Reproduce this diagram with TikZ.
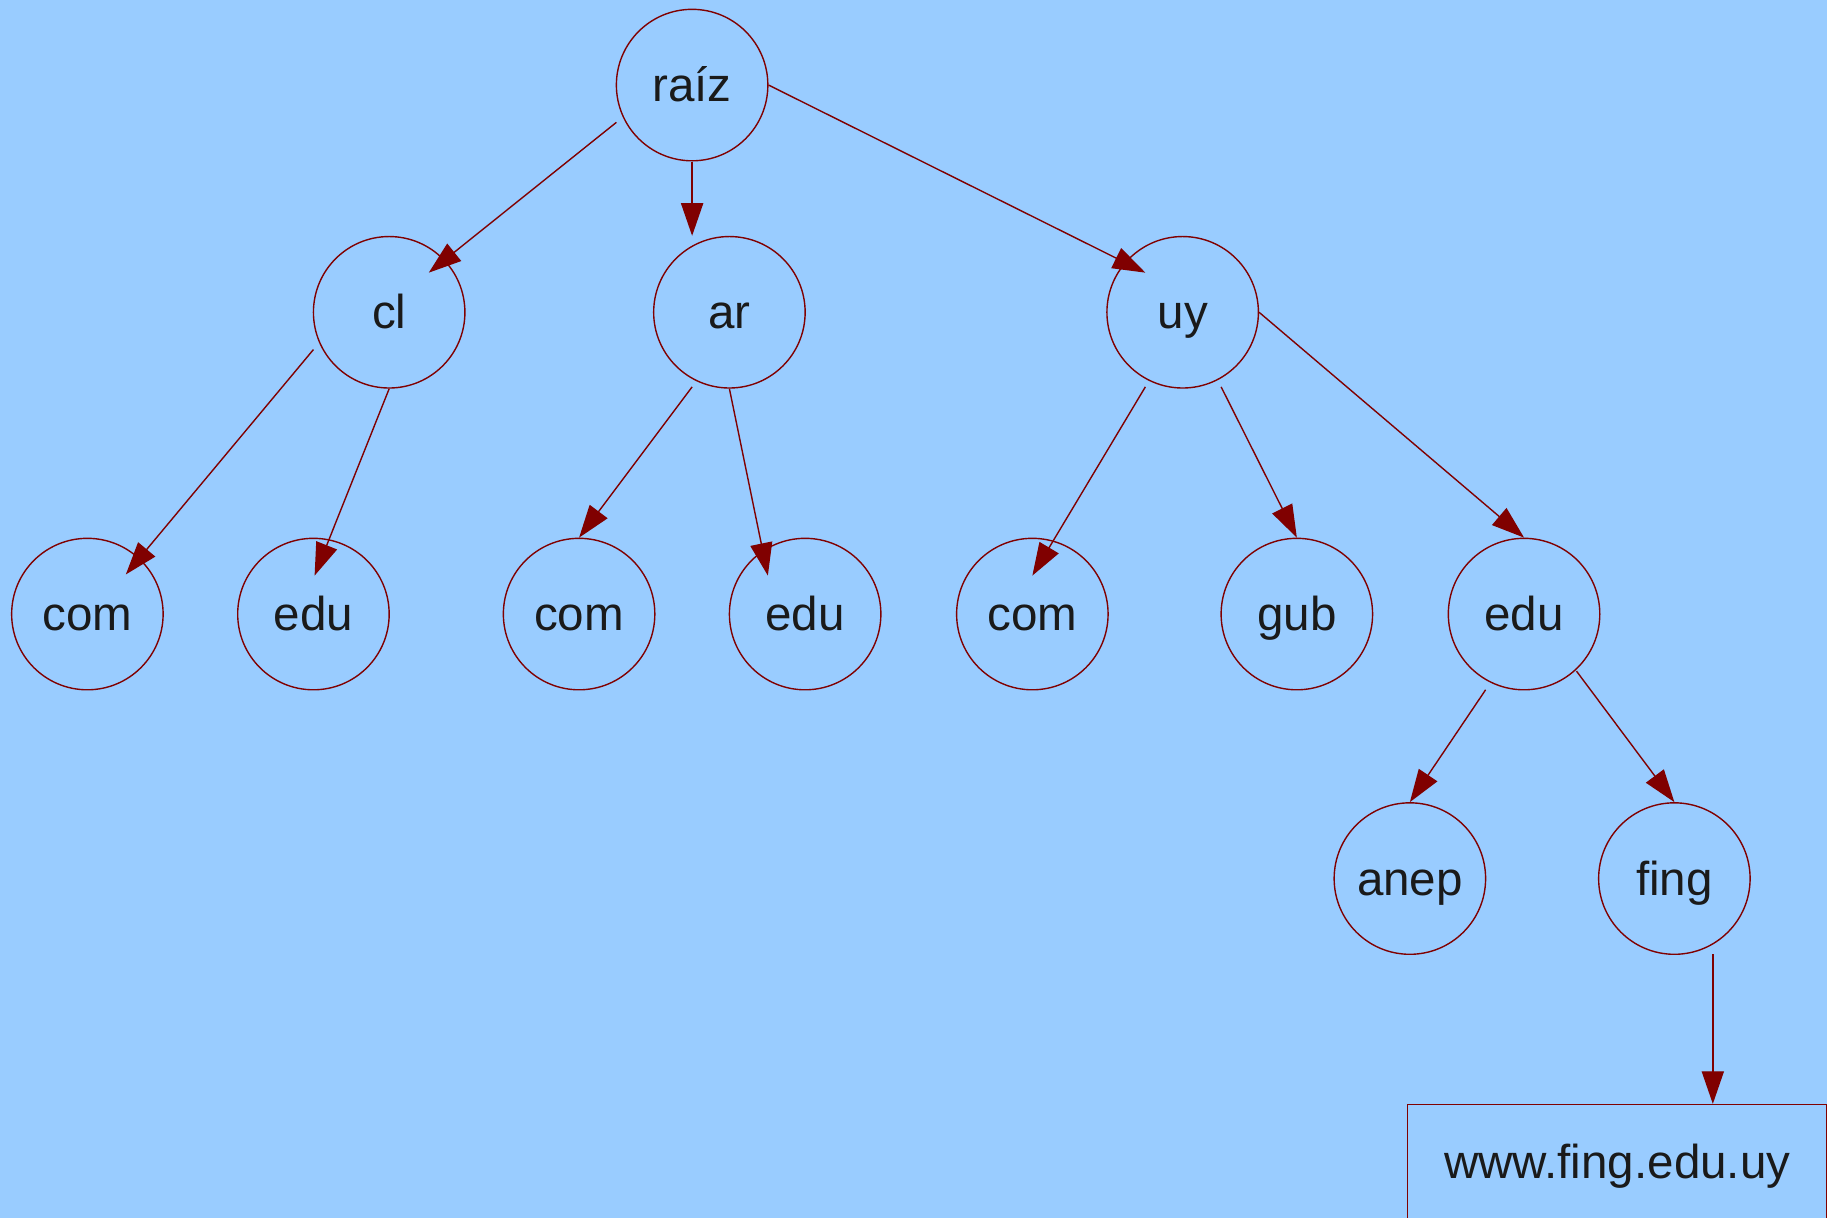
\documentclass[tikz,border=0pt]{standalone}
\usepackage{fontspec}
\setmainfont{Liberation Sans}
\usetikzlibrary{arrows.meta,calc}
\definecolor{sky}{HTML}{99CCFF}
\definecolor{wine}{HTML}{800000}
\definecolor{ink}{HTML}{1A1A1A}
\begin{document}
\begin{tikzpicture}[x=0.5pt,y=-0.5pt,
  dom/.style={circle,draw=wine,line width=0.6pt,minimum size=65pt,inner sep=0pt,
    text height=14.3pt,text depth=0pt,
    text=ink,font=\fontsize{20.4}{24}\selectfont},
  host/.style={rectangle,draw=wine,line width=0.6pt,minimum width=180pt,minimum height=50pt,
    inner sep=0pt,text height=13pt,text depth=0pt,
    text=ink,font=\fontsize{20.4}{24}\selectfont},
  link/.style={draw=wine,line width=0.6pt,-{Triangle[length=14pt,width=9.5pt]}}]
  % page and background
  \fill[sky] (0,0) rectangle (1568,1045);
  \clip (0,0) rectangle (1568,1045);
  \useasboundingbox (0,0) rectangle (1568,1045);

  % domain tree
  \node[dom] (raiz) at (594,73) {raíz};
  \node[dom] (cl) at (334,268) {cl};
  \node[dom] (ar) at (626,268) {ar};
  \node[dom] (uy) at (1015,268) {uy};
  \node[dom] (clcom) at (75,527) {com};
  \node[dom] (cledu) at (269,527) {edu};
  \node[dom] (arcom) at (497,527) {com};
  \node[dom] (aredu) at (691,527) {edu};
  \node[dom] (uycom) at (886,527) {com};
  \node[dom] (uygub) at (1113,527) {gub};
  \node[dom] (uyedu) at (1308,527) {edu};
  \node[dom] (anep) at (1210,754) {anep};
  \node[dom] (fing) at (1437,754) {fing};
  \node[host] (www) at (1388,998) {www.fing.edu.uy};

  % connectors
  \draw[link] ($(raiz.center)+(-65,32)$) -- ($(cl.center)+(34,-34)$);
  \draw[link] (raiz.south) -- (raiz.south |- ar.north);
  \draw[link] (raiz.east) -- ($(uy.center)+(-32,-34)$);

  \draw[link] ($(cl.center)+(-65,32)$) -- ($(clcom.center)+(33,-34)$);
  \draw[link] (cl.south) -- ($(cledu.center)+(1,-33)$);

  \draw[link] ($(ar.center)+(-32,64)$) -- (arcom.north);
  \draw[link] (ar.south) -- ($(aredu.center)+(-32,-33)$);

  \draw[link] ($(uy.center)+(-32,64)$) -- ($(uycom.center)+(0,-33)$);
  \draw[link] ($(uy.center)+(33,64)$) -- (uygub.north);
  \draw[link] (uy.east) -- (uyedu.north);

  \draw[link] ($(uyedu.center)+(-33,65)$) -- (anep.north);
  \draw[link] ($(uyedu.center)+(45,49)$) -- (fing.north);

  \coordinate (fingout) at ($(fing.center)+(33,65)$);
  \draw[link] (fingout) -- (fingout |- www.north);
\end{tikzpicture}
\end{document}
